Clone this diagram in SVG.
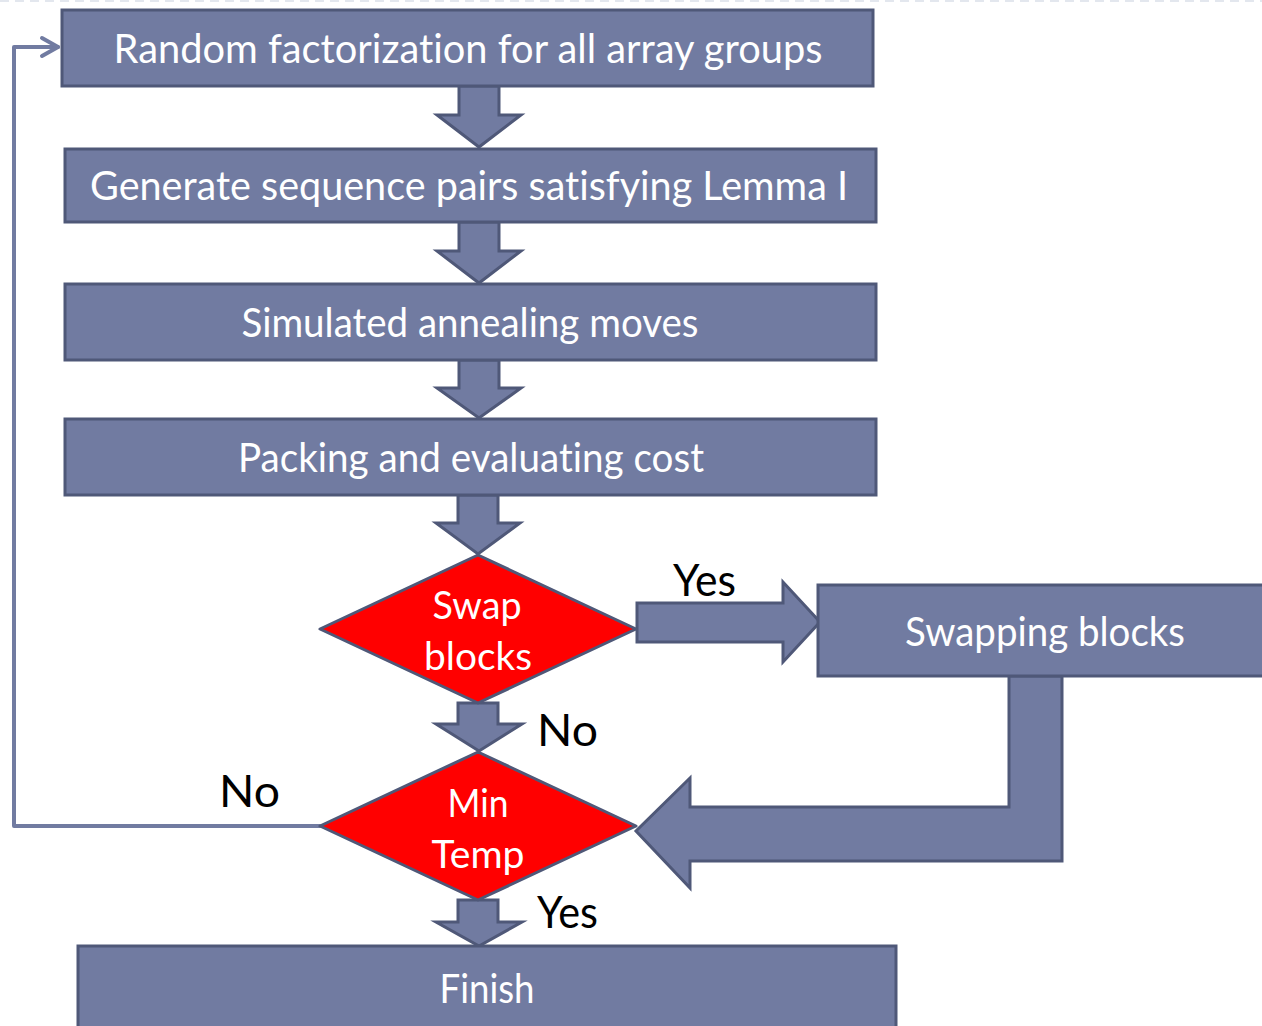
<svg xmlns="http://www.w3.org/2000/svg" width="1262" height="1026" viewBox="0 0 1262 1026">
  <style>
    .box { fill: #717ba1; stroke: #4f5878; stroke-width: 3; }
    .dec { fill: #ff0000; stroke: #4f5878; stroke-width: 3; stroke-linejoin: round; }
    .blk { fill: #717ba1; stroke: #4f5878; stroke-width: 3; stroke-linejoin: miter; }
    text { font-variant-ligatures: none; }
    .wt { font-family: Lato, "Liberation Sans", sans-serif; fill: #ffffff; text-anchor: middle; }
    .lbl { font-family: Lato, "Liberation Sans", sans-serif; fill: #000000; font-size: 44px; }
    .loop { fill: none; stroke: #717ba1; stroke-width: 4; stroke-linejoin: round; stroke-linecap: round; }
  </style>

  <rect width="1262" height="1026" fill="#ffffff"/>
  <line x1="0" y1="1" x2="1262" y2="1" stroke="#e3e7ee" stroke-width="2" stroke-dasharray="9 6"/>

  <g id="connectors">
    <!-- feedback loop back to the start -->
    <polyline class="loop" points="320,826 14,826 14,47 58,47"/>
    <polyline class="loop" points="42,38 58,47 42,56"/>

    <!-- block arrows between steps -->
    <polygon class="blk" points="459,86 499,86 499,115 521,115 479,147 437,115 459,115"/>
    <polygon class="blk" points="459,222 499,222 499,251 521,251 479,283 437,251 459,251"/>
    <polygon class="blk" points="459,360 499,360 499,388 521,388 479,418 437,388 459,388"/>
    <polygon class="blk" points="458,495 498,495 498,523 520,523 478,554 436,523 458,523"/>
    <polygon class="blk" points="458,703 498,703 498,724 522,724 479,751 436,724 458,724"/>
    <polygon class="blk" points="458,900 498,900 498,922 522,922 479,946 436,922 458,922"/>

    <!-- Yes branch to swapping -->
    <polygon class="blk" points="637,603 783,603 783,582 820,622 783,662 783,642 637,642"/>

    <!-- return from swapping to the temperature check -->
    <polygon class="blk" points="1009,676 1062,676 1062,861 690,861 690,888 636,831 690,778 690,807 1009,807"/>

    <text class="lbl" x="673" y="596" textLength="63" lengthAdjust="spacingAndGlyphs">Yes</text>
    <text class="lbl" x="537" y="746" textLength="61" lengthAdjust="spacingAndGlyphs">No</text>
    <text class="lbl" x="219" y="807" textLength="61" lengthAdjust="spacingAndGlyphs">No</text>
    <text class="lbl" x="537" y="928" textLength="61" lengthAdjust="spacingAndGlyphs">Yes</text>
  </g>

  <g id="random-factorization">
    <rect class="box" x="62" y="10" width="811" height="76"/>
    <text class="wt" x="468" y="63" font-size="40" textLength="709" lengthAdjust="spacingAndGlyphs">Random factorization for all array groups</text>
  </g>

  <g id="generate-sequence-pairs">
    <rect class="box" x="65" y="149" width="811" height="73"/>
    <text class="wt" x="469" y="200" font-size="40" textLength="758" lengthAdjust="spacingAndGlyphs">Generate sequence pairs satisfying Lemma I</text>
  </g>

  <g id="simulated-annealing">
    <rect class="box" x="65" y="284" width="811" height="76"/>
    <text class="wt" x="470" y="337" font-size="40" textLength="457" lengthAdjust="spacingAndGlyphs">Simulated annealing moves</text>
  </g>

  <g id="packing-cost">
    <rect class="box" x="65" y="419" width="811" height="76"/>
    <text class="wt" x="471" y="472" font-size="40" textLength="466" lengthAdjust="spacingAndGlyphs">Packing and evaluating cost</text>
  </g>

  <g id="swap-decision">
    <polygon class="dec" points="478,555 636,629 478,703 320,629"/>
    <text class="wt" x="477" y="619" font-size="38" textLength="89" lengthAdjust="spacingAndGlyphs">Swap</text>
    <text class="wt" x="478" y="670" font-size="38" textLength="108" lengthAdjust="spacingAndGlyphs">blocks</text>
  </g>

  <g id="swapping-blocks">
    <rect class="box" x="818" y="585" width="450" height="91"/>
    <text class="wt" x="1045" y="646" font-size="40" textLength="280" lengthAdjust="spacingAndGlyphs">Swapping blocks</text>
  </g>

  <g id="min-temp-decision">
    <polygon class="dec" points="478,752 636,826 478,900 320,826"/>
    <text class="wt" x="478" y="817" font-size="38" textLength="61" lengthAdjust="spacingAndGlyphs">Min</text>
    <text class="wt" x="478" y="868" font-size="38" textLength="93" lengthAdjust="spacingAndGlyphs">Temp</text>
  </g>

  <g id="finish">
    <rect class="box" x="78" y="946" width="818" height="90"/>
    <text class="wt" x="487" y="1003" font-size="40" textLength="95" lengthAdjust="spacingAndGlyphs">Finish</text>
  </g>
</svg>
